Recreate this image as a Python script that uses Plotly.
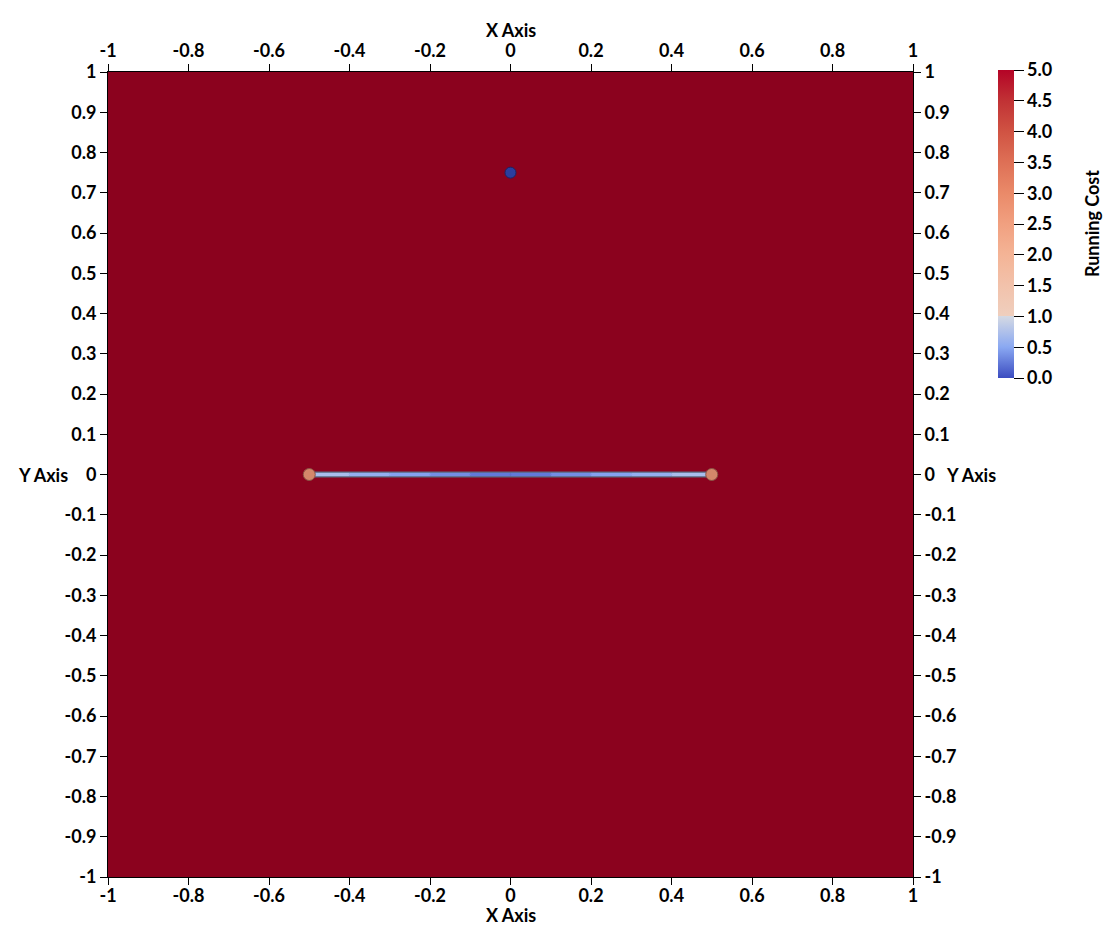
import plotly.graph_objects as go
from plotly.colors import sample_colorscale, hex_to_rgb

# ---------------- data ----------------
field_x = [-1.0, 1.0]
field_y = [-1.0, 1.0]
field_cost = [[5.0, 5.0], [5.0, 5.0]]

path_x = [-0.5, -0.4, -0.3, -0.2, -0.1, 0.0, 0.1, 0.2, 0.3, 0.4, 0.5]
path_y = [0.0] * 11
path_cost = [0.8, 0.62, 0.52, 0.42, 0.3, 0.2, 0.3, 0.42, 0.52, 0.62, 0.8]

end_x = [-0.5, 0.5]
end_y = [0.0, 0.0]
goal_x = [0.0]
goal_y = [0.75]

tick_vals = [-1, -0.9, -0.8, -0.7, -0.6, -0.5, -0.4, -0.3, -0.2, -0.1, 0,
             0.1, 0.2, 0.3, 0.4, 0.5, 0.6, 0.7, 0.8, 0.9, 1]
x_tick_vals = [-1, -0.8, -0.6, -0.4, -0.2, 0, 0.2, 0.4, 0.6, 0.8, 1]
x_tick_text = ["-1", "-0.8", "-0.6", "-0.4", "-0.2", "0", "0.2", "0.4", "0.6", "0.8", "1"]
y_tick_text = ["-1", "-0.9", "-0.8", "-0.7", "-0.6", "-0.5", "-0.4", "-0.3", "-0.2", "-0.1", "0",
               "0.1", "0.2", "0.3", "0.4", "0.5", "0.6", "0.7", "0.8", "0.9", "1"]
cbar_vals = [0, 0.5, 1, 1.5, 2, 2.5, 3, 3.5, 4, 4.5, 5]
cbar_text = ["0.0", "0.5", "1.0", "1.5", "2.0", "2.5", "3.0", "3.5", "4.0", "4.5", "5.0"]

# ---------------- style ----------------
CMIN, CMAX = 0.0, 5.0
cost_scale_hex = [
    [0.0, "#3b4cc0"], [0.1, "#8aa8f2"], [0.2, "#d4d9e3"],
    [0.2, "#efcfbe"], [0.3, "#f2c2ab"], [0.4, "#f4b496"], [0.5, "#f1a080"],
    [0.6, "#ea8a69"], [0.7, "#de7056"], [0.8, "#d05343"], [0.9, "#c13235"],
    [1.0, "#b40426"],
]
cost_scale = [[p, "rgb(%d,%d,%d)" % hex_to_rgb(c)] for p, c in cost_scale_hex]
# low (blue) part only, for sampling segment colours of the path
low_scale = [[p / 0.2, c] for p, c in cost_scale[:3]]

FONT = dict(family="Lato, 'Open Sans', sans-serif", size=18, color="black", weight="bold")

fig = go.Figure()

# background field (shaded as rendered)
fig.add_trace(go.Heatmap(
    x=field_x, y=field_y, z=field_cost,
    colorscale=[[0, "#8b021e"], [1, "#8b021e"]], zmin=CMIN, zmax=CMAX,
    showscale=False, hoverinfo="skip"))

# path tube: dark outline
fig.add_trace(go.Scatter(x=path_x, y=path_y, mode="lines",
                         line=dict(color="#5a687e", width=6),
                         showlegend=False, hoverinfo="skip"))
# path colored segments
for i in range(len(path_x) - 1):
    c = 0.5 * (path_cost[i] + path_cost[i + 1])
    col = sample_colorscale(low_scale, [min(1.0, c / 1.0)])[0]
    fig.add_trace(go.Scatter(x=path_x[i:i + 2], y=path_y[i:i + 2], mode="lines",
                             line=dict(color=col, width=3.5),
                             showlegend=False, hoverinfo="skip"))

# colorbar carrier (path points)
fig.add_trace(go.Scatter(
    x=path_x, y=path_y, mode="markers",
    marker=dict(size=2, color=path_cost, colorscale=cost_scale, cmin=CMIN, cmax=CMAX,
                showscale=True,
                colorbar=dict(
                    x=890 / 805, xanchor="left", xref="paper", xpad=0,
                    y=807 / 805, yanchor="top", ypad=0, len=308 / 805, lenmode="fraction",
                    thickness=16, outlinewidth=0,
                    tickvals=cbar_vals, ticktext=cbar_text,
                    ticks="outside", ticklen=10, tickcolor="black", tickwidth=1,
                    tickfont=FONT)),
    showlegend=False, hoverinfo="skip"))

# end spheres
fig.add_trace(go.Scatter(x=end_x, y=end_y, mode="markers",
                         marker=dict(size=12, color="#d4876a",
                                     line=dict(color="#8a5444", width=1)),
                         showlegend=False, hoverinfo="skip"))

# goal sphere (on secondary axes so they are drawn)
fig.add_trace(go.Scatter(x=goal_x, y=goal_y, mode="markers", xaxis="x2", yaxis="y2",
                         marker=dict(size=11, color="#2b3e9e",
                                     line=dict(color="#1a2566", width=1)),
                         showlegend=False, hoverinfo="skip"))

axis_common = dict(range=[-1, 1], showgrid=False, zeroline=False,
                   ticks="outside", ticklen=7, tickcolor="black", tickwidth=1,
                   showline=True, linecolor="black", linewidth=1,
                   tickfont=FONT, fixedrange=True)

fig.update_layout(
    width=1102, height=924,
    margin=dict(l=100, r=197, t=64, b=55),
    paper_bgcolor="white", plot_bgcolor="white",
    xaxis=dict(**axis_common, tickvals=x_tick_vals, ticktext=x_tick_text, side="bottom",
               ticklabelstandoff=-5),
    xaxis2=dict(**axis_common, tickvals=x_tick_vals, ticktext=x_tick_text, side="top",
                overlaying="x", anchor="y"),
    yaxis=dict(**axis_common, tickvals=tick_vals, ticktext=y_tick_text, side="left"),
    yaxis2=dict(**axis_common, tickvals=tick_vals, ticktext=y_tick_text, side="right",
                overlaying="y", anchor="x"),
    annotations=[
        dict(text="X Axis", x=0.5, y=0, xref="paper", yref="paper",
             xanchor="center", yanchor="top", yshift=-25, showarrow=False, font=FONT),
        dict(text="X Axis", x=0.5, y=1, xref="paper", yref="paper",
             xanchor="center", yanchor="bottom", yshift=29, showarrow=False, font=FONT),
        dict(text="Y Axis", x=0, y=0.5, xref="paper", yref="paper",
             xanchor="right", yanchor="middle", xshift=-38, showarrow=False, font=FONT),
        dict(text="Y Axis", x=1, y=0.5, xref="paper", yref="paper",
             xanchor="left", yanchor="middle", xshift=31, showarrow=False, font=FONT),
        dict(text="Running Cost", x=1.0, y=(877 - 224) / 805, xref="paper", yref="paper",
             xanchor="center", yanchor="middle", xshift=1092 - 913, textangle=-90,
             showarrow=False, font=FONT),
    ],
)

fig.write_html("out.html")
